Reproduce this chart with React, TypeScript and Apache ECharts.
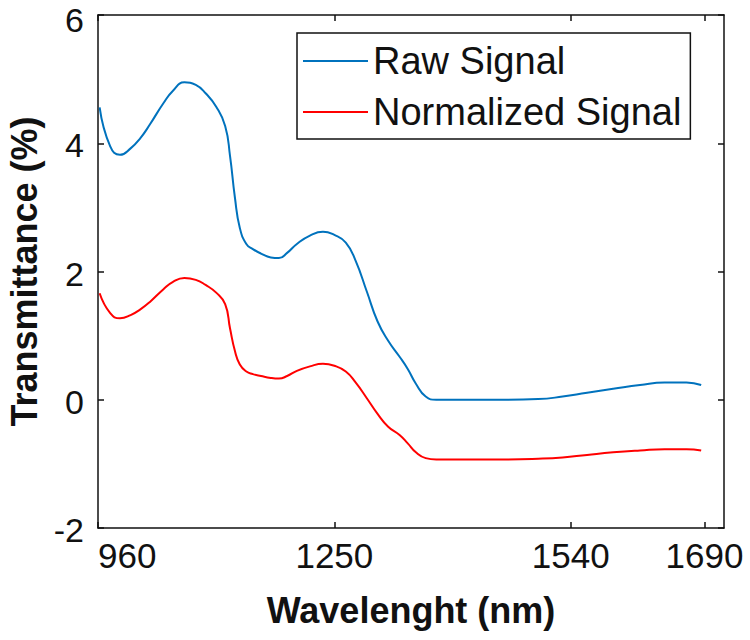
import React, { useEffect, useRef } from "react";
import * as echarts from "echarts";

// Scan position along the wavelength axis (same units as the tick positions below)
const scanPos = [
  2, 15, 27, 40, 52, 64, 80, 92, 106, 120, 132, 145, 156, 162, 168, 174, 182,
  190, 200, 212, 222, 232, 244, 260, 276, 290, 304, 316, 330, 343, 356, 370,
  380, 390, 402, 415, 430, 460, 500, 540, 570, 600, 632, 665, 695, 722, 740,
];

const rawSignal = [
  4.56, 3.95, 3.82, 3.92, 4.08, 4.3, 4.62, 4.82, 4.95, 4.91, 4.78, 4.57, 4.27,
  3.8, 3.15, 2.68, 2.43, 2.35, 2.28, 2.22, 2.21, 2.29, 2.43, 2.56, 2.62, 2.57,
  2.45, 2.17, 1.68, 1.22, 0.92, 0.67, 0.48, 0.25, 0.05, 0.0, 0.0, 0.0, 0.0,
  0.01, 0.05, 0.11, 0.17, 0.23, 0.27, 0.27, 0.23,
];

const normalizedSignal = [
  1.66, 1.35, 1.27, 1.32, 1.41, 1.53, 1.72, 1.84, 1.9, 1.87, 1.79, 1.67, 1.49,
  1.11, 0.76, 0.55, 0.44, 0.4, 0.37, 0.34, 0.33, 0.37, 0.45, 0.52, 0.56, 0.53,
  0.44, 0.27, 0.02, -0.22, -0.42, -0.55, -0.68, -0.82, -0.91, -0.93, -0.93,
  -0.93, -0.93, -0.92, -0.9, -0.86, -0.82, -0.79, -0.77, -0.77, -0.79,
];

const xTickPositions = [0, 290, 580, 744];
const xTickLabels = ["960", "1250", "1540", "1690"];
const xRange = [0, 768];
const yRange = [-2, 6];
const yStep = 2;

const FONT = "'Liberation Sans', Arial, sans-serif";
const INK = "#111111";

export default function App() {
  const ref = useRef<HTMLDivElement>(null);

  useEffect(() => {
    document.body.style.margin = "0";
    if (!ref.current) return;
    const chart = echarts.init(ref.current, undefined, { renderer: "svg" });

    const axisLine = { show: true, onZero: false, lineStyle: { color: INK, width: 1.5 } };
    const tickStyle = { show: true, inside: true, length: 6, lineStyle: { color: INK, width: 1.5 } };
    const xLabel = (v: number) => {
      const i = xTickPositions.indexOf(v);
      return i >= 0 ? xTickLabels[i] : "";
    };
    // the topmost label sits a little below its tick so it stays inside the canvas
    const yLabel = (v: number) => (v === yRange[1] ? `{top|${v}}` : `{n|${v}}`);

    chart.setOption({
      animation: false,
      textStyle: { fontFamily: FONT, color: INK },
      grid: { left: 98, top: 15, right: 26, bottom: 112, outerBoundsMode: "none" },
      legend: {
        orient: "vertical",
        left: 297,
        top: 33,
        padding: [6, 9, 5, 6],
        icon: "rect",
        itemWidth: 65,
        itemHeight: 2,
        itemGap: 7,
        borderColor: INK,
        borderWidth: 1.5,
        backgroundColor: "#ffffff",
        textStyle: { fontSize: 38, lineHeight: 44, color: INK, fontFamily: FONT },
        data: ["Raw Signal", "Normalized Signal"],
      },
      xAxis: [
        {
          type: "value",
          position: "bottom",
          min: xRange[0],
          max: xRange[1],
          axisLine,
          axisTick: { ...tickStyle, customValues: xTickPositions },
          splitLine: { show: false },
          axisLabel: {
            customValues: xTickPositions,
            formatter: xLabel,
            fontSize: 35,
            color: INK,
            margin: 10,
            alignMinLabel: "left",
            fontFamily: FONT,
          },
          name: "Wavelenght (nm)",
          nameLocation: "middle",
          nameGap: 64,
          nameTextStyle: { fontSize: 36, fontWeight: "bold", color: INK, fontFamily: FONT },
        },
        {
          type: "value",
          position: "top",
          min: xRange[0],
          max: xRange[1],
          axisLine,
          axisTick: { ...tickStyle, customValues: xTickPositions },
          axisLabel: { show: false },
          splitLine: { show: false },
        },
      ],
      yAxis: [
        {
          type: "value",
          position: "left",
          min: yRange[0],
          max: yRange[1],
          interval: yStep,
          axisLine,
          axisTick: tickStyle,
          splitLine: { show: false },
          axisLabel: {
            color: INK,
            margin: 14,
            fontFamily: FONT,
            formatter: yLabel,
            rich: {
              top: { fontSize: 34, lineHeight: 20, padding: [9, 0, 0, 0], color: INK, fontFamily: FONT },
              n: { fontSize: 34, lineHeight: 28, padding: [4, 0, 0, 0], color: INK, fontFamily: FONT },
            },
          },
          name: "Transmittance (%)",
          nameLocation: "middle",
          nameGap: 56,
          nameTextStyle: { fontSize: 36, fontWeight: "bold", color: INK, fontFamily: FONT },
        },
        {
          type: "value",
          position: "right",
          min: yRange[0],
          max: yRange[1],
          interval: yStep,
          axisLine,
          axisTick: tickStyle,
          axisLabel: { show: false },
          splitLine: { show: false },
        },
      ],
      series: [
        {
          name: "Raw Signal",
          type: "line",
          xAxisIndex: 0,
          yAxisIndex: 0,
          symbol: "none",
          smooth: 0.5,
          lineStyle: { color: "#0072BD", width: 2 },
          itemStyle: { color: "#0072BD" },
          data: scanPos.map((x, i) => [x, rawSignal[i]]),
        },
        {
          name: "Normalized Signal",
          type: "line",
          xAxisIndex: 0,
          yAxisIndex: 0,
          symbol: "none",
          smooth: 0.5,
          lineStyle: { color: "#FF0000", width: 2 },
          itemStyle: { color: "#FF0000" },
          data: scanPos.map((x, i) => [x, normalizedSignal[i]]),
        },
      ],
    });

    return () => chart.dispose();
  }, []);

  return <div ref={ref} style={{ width: 750, height: 640 }} />;
}
